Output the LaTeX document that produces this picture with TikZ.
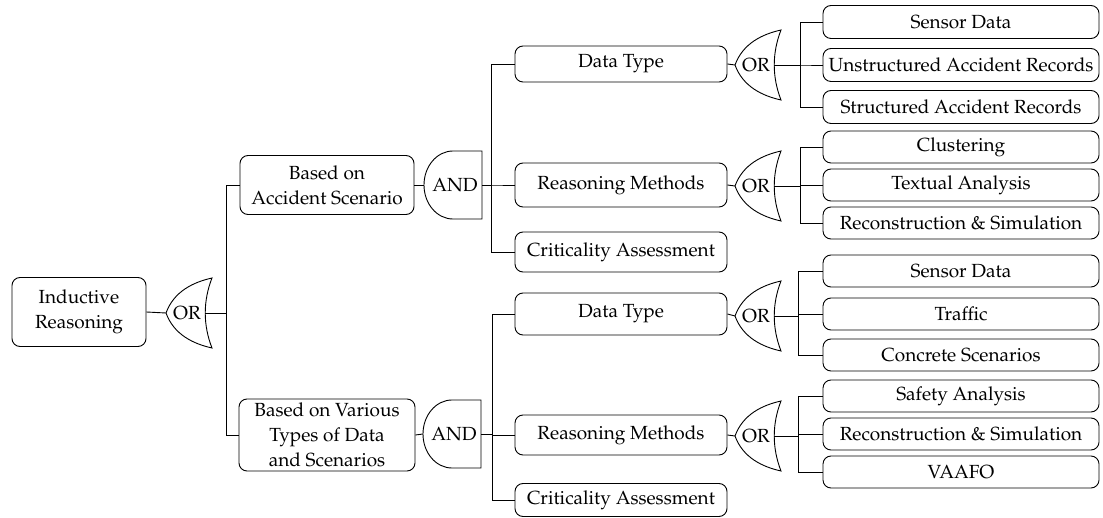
\documentclass[tikz,border=0pt]{standalone}
\usepackage[T1]{fontenc}
\usepackage{mathpazo}
\tikzset{
  box/.style={draw, rounded corners=8pt, align=center, inner sep=1pt, font=\fontsize{19}{25}\selectfont},
  leaf/.style={box, minimum width=276pt, minimum height=32pt},
  midbox/.style={box, minimum width=212pt, minimum height=40pt},
  orgate/.pic={
    \draw (-23,0) .. controls (-15,-22) and (5,-31) .. (23,-35)
      .. controls (14,-12) and (14,12) .. (23,35)
      .. controls (5,31) and (-15,22) .. (-23,0) -- cycle;
    \node[font=\fontsize{19}{25}\selectfont] (-lbl) at (-2,0) {OR};
    \coordinate (-in) at (-23,0);
    \coordinate (-out) at (16,0);
  },
  andgate/.pic={
    \draw (29,-34) -- (0,-34) arc[start angle=270, end angle=90, x radius=29, y radius=34]
      -- (29,34) -- cycle;
    \node[font=\fontsize{19}{25}\selectfont] (-lbl) at (2,0) {AND};
    \coordinate (-in) at (-29,0);
    \coordinate (-out) at (29,0);
  }
}
\begin{document}
\begin{tikzpicture}[x=1pt, y=-1pt, line width=0.9pt]
\useasboundingbox (0,0) rectangle (1103,518);
\node[box, minimum width=134pt, minimum height=69pt] (ir) at (79,312) {Inductive\\Reasoning};
\pic (g0) at (189,313) {orgate};
\node[box, minimum width=174pt, minimum height=59pt] (b1) at (327,185) {Based on\\Accident Scenario};
\node[box, minimum width=176pt, minimum height=72pt] (b2) at (327,435) {Based on Various\\Types of Data\\and Scenarios};
\pic (a1) at (453,185) {andgate};
\pic (a2) at (452,434) {andgate};
\node[midbox, minimum height=36pt] (d1) at (621,64) {Data Type};
\node[midbox, minimum height=44pt] (r1) at (621,185) {Reasoning Methods};
\node[midbox] (c1) at (621,252) {Criticality Assessment};
\node[midbox, minimum height=42pt] (d2) at (621,314) {Data Type};
\node[midbox] (r2) at (621,435) {Reasoning Methods};
\node[midbox, minimum height=33pt] (c2) at (621,500) {Criticality Assessment};
\pic (o1) at (758,65) {orgate};
\pic (o2) at (758,186) {orgate};
\pic (o3) at (758,316) {orgate};
\pic (o4) at (758,436) {orgate};
\node[leaf, minimum height=33pt] (s1) at (961,22) {Sensor Data};
\node[leaf, minimum height=33pt] (u1) at (961,65) {Unstructured Accident Records};
\node[leaf, minimum height=33pt] (t1) at (961,107) {Structured Accident Records};
\node[leaf] (k1) at (961,147) {Clustering};
\node[leaf] (x1) at (961,185) {Textual Analysis};
\node[leaf] (e1) at (961,223) {Reconstruction \& Simulation};
\node[leaf] (s2) at (961,271) {Sensor Data};
\node[leaf] (f2) at (961,314) {Traffic};
\node[leaf] (q2) at (961,355) {Concrete Scenarios};
\node[leaf] (y2) at (961,396) {Safety Analysis};
\node[leaf] (e2) at (961,434) {Reconstruction \& Simulation};
\node[leaf] (v2) at (961,472) {VAAFO};
\draw (ir.east) -- (g0-in);
\draw (g0-out) -- ++(21,0) |- (b1.west);
\draw (g0-out) -- ++(21,0) |- (b2.west);
\draw (b1.east) -- (a1-in);
\draw (b2.east) -- (a2-in);
\draw (a1-out) -- ++(9,0) |- (d1.west);
\draw (a1-out) -- ++(9,0) |- (r1.west);
\draw (a1-out) -- ++(9,0) |- (c1.west);
\draw (a2-out) -- ++(11,0) |- (d2.west);
\draw (a2-out) -- ++(11,0) |- (r2.west);
\draw (a2-out) -- ++(11,0) |- (c2.west);
\draw (d1.east) -- (o1-in);
\draw (r1.east) -- (o2-in);
\draw (d2.east) -- (o3-in);
\draw (r2.east) -- (o4-in);
\draw (o1-out) -- ++(26,0) |- (s1.west);
\draw (o1-out) -- ++(26,0) |- (u1.west);
\draw (o1-out) -- ++(26,0) |- (t1.west);
\draw (o2-out) -- ++(26,0) |- (k1.west);
\draw (o2-out) -- ++(26,0) |- (x1.west);
\draw (o2-out) -- ++(26,0) |- (e1.west);
\draw (o3-out) -- ++(24,0) |- (s2.west);
\draw (o3-out) -- ++(24,0) |- (f2.west);
\draw (o3-out) -- ++(24,0) |- (q2.west);
\draw (o4-out) -- ++(24,0) |- (y2.west);
\draw (o4-out) -- ++(24,0) |- (e2.west);
\draw (o4-out) -- ++(24,0) |- (v2.west);
\end{tikzpicture}
\end{document}
